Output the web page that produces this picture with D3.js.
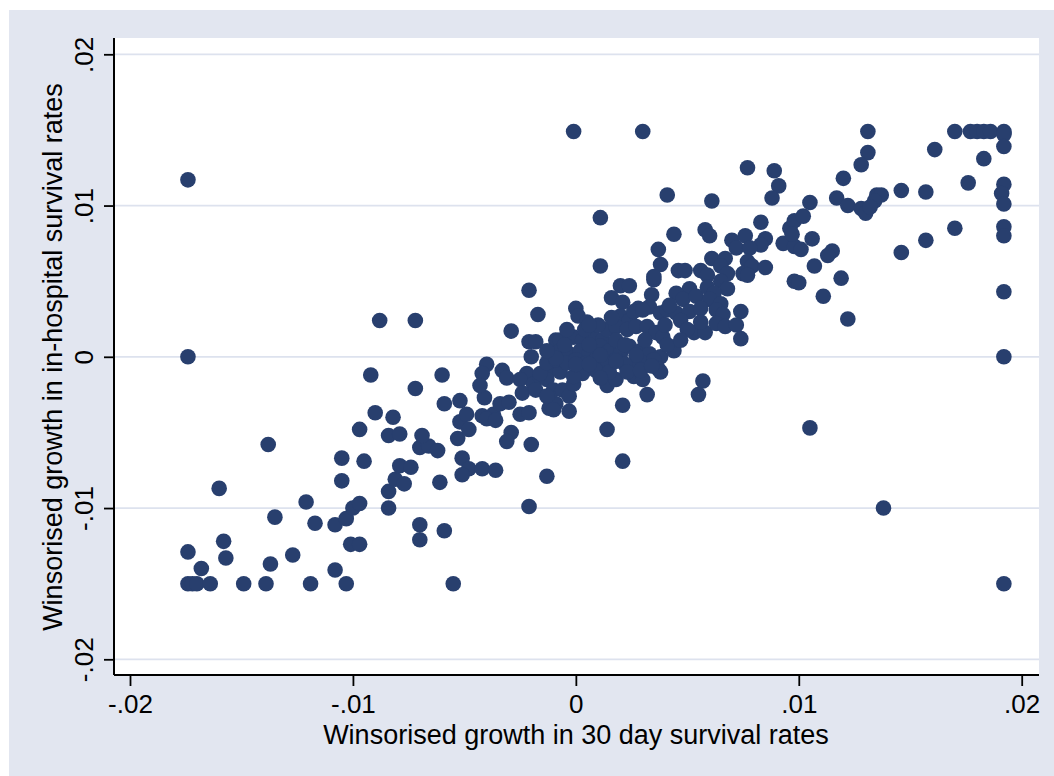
<!DOCTYPE html>
<html>
<head>
<meta charset="utf-8">
<script src="https://cdn.jsdelivr.net/npm/d3@7"></script>
<style>
  html, body { margin: 0; padding: 0; background: #ffffff; }
  svg { display: block; }
  text { font-family: "Liberation Sans", Arial, sans-serif; fill: #000; }
</style>
</head>
<body>
<div id="chart"></div>
<script>
// Axis ticks and their labels
const xTicks = [-0.02, -0.01, 0, 0.01, 0.02];
const xTickLabels = ["-.02", "-.01", "0", ".01", ".02"];
const yTicks = [-0.02, -0.01, 0, 0.01, 0.02];
const yTickLabels = ["-.02", "-.01", "0", ".01", ".02"];

const xTitle = "Winsorised growth in 30 day survival rates";
const yTitle = "Winsorised growth in in-hospital survival rates";

// [growth in 30 day survival, growth in in-hospital survival], winsorised
const survivalGrowth = [
  [-0.0174, 0.0117], [-0.0174, 0.0000], [-0.0174, -0.0129], [-0.0174, -0.0150], [-0.0172, -0.0150],
  [-0.0170, -0.0150], [-0.0168, -0.0140], [-0.0164, -0.0150], [-0.0160, -0.0087], [-0.0158, -0.0122],
  [-0.0157, -0.0133], [-0.0149, -0.0150], [-0.0139, -0.0150], [-0.0138, -0.0058], [-0.0137, -0.0137],
  [-0.0135, -0.0106], [-0.0127, -0.0131], [-0.0121, -0.0096], [-0.0119, -0.0150], [-0.0117, -0.0110],
  [-0.0108, -0.0141], [-0.0108, -0.0111], [-0.0105, -0.0082], [-0.0105, -0.0067], [-0.0103, -0.0107],
  [-0.0103, -0.0150], [-0.0101, -0.0124], [-0.0097, -0.0124], [-0.0100, -0.0100], [-0.0097, -0.0097],
  [-0.0097, -0.0048], [-0.0095, -0.0069], [-0.0092, -0.0012], [-0.0090, -0.0037], [-0.0088, 0.0024],
  [-0.0084, -0.0052], [-0.0079, -0.0051], [-0.0082, -0.0040], [-0.0084, -0.0089], [-0.0081, -0.0081],
  [-0.0077, -0.0084], [-0.0084, -0.0100], [-0.0079, -0.0072], [-0.0074, -0.0073], [-0.0072, 0.0024],
  [-0.0072, -0.0021], [-0.0070, -0.0060], [-0.0066, -0.0059], [-0.0062, -0.0062], [-0.0069, -0.0052],
  [-0.0070, -0.0111], [-0.0070, -0.0121], [-0.0061, -0.0083], [-0.0059, -0.0115], [-0.0060, -0.0012],
  [-0.0059, -0.0031], [-0.0055, -0.0150], [-0.0053, -0.0054], [-0.0052, -0.0029], [-0.0052, -0.0043],
  [-0.0049, -0.0038], [-0.0051, -0.0067], [-0.0048, -0.0074], [-0.0051, -0.0078], [-0.0048, -0.0048],
  [-0.0042, -0.0039], [-0.0037, -0.0038], [-0.0042, -0.0074], [-0.0036, -0.0075], [-0.0040, -0.0041],
  [-0.0036, -0.0042], [-0.0041, -0.0027], [-0.0040, -0.0005], [-0.0042, -0.0011], [-0.0043, -0.0019],
  [-0.0033, -0.0009], [-0.0031, -0.0014], [-0.0034, -0.0031], [-0.0030, -0.0030], [-0.0029, 0.0017],
  [-0.0029, -0.0050], [-0.0031, -0.0056], [-0.0025, -0.0038], [-0.0021, -0.0037], [-0.0020, -0.0058],
  [-0.0021, 0.0044], [-0.0017, 0.0028], [-0.0021, 0.0010], [-0.0018, 0.0010], [-0.0009, 0.0011],
  [-0.0020, 0.0000], [-0.0022, -0.0011], [-0.0025, -0.0015], [-0.0019, -0.0018], [-0.0016, -0.0013],
  [-0.0012, -0.0009], [-0.0024, -0.0024], [-0.0018, -0.0022], [-0.0013, -0.0015], [-0.0012, -0.0034],
  [-0.0009, -0.0031], [-0.0013, -0.0079], [-0.0021, -0.0099], [-0.0010, -0.0022], [-0.0013, -0.0026],
  [-0.0006, -0.0022], [-0.0003, -0.0026], [-0.0001, -0.0018], [-0.0010, -0.0035], [-0.0003, -0.0036],
  [-0.0016, -0.0011], [-0.0007, -0.0010], [0.0003, -0.0011], [-0.0001, -0.0013], [-0.0007, 0.0011],
  [-0.0001, 0.0013], [0.0003, 0.0011], [0.0008, 0.0013], [0.0012, 0.0011], [0.0000, 0.0032],
  [0.0001, 0.0027], [0.0005, 0.0023],
  [-0.0012, 0.0002], [-0.0007, 0.0004], [-0.0003, 0.0002], [0.0002, 0.0004], [0.0006, 0.0002],
  [0.0011, 0.0007], [0.0015, 0.0004], [0.0020, 0.0002], [0.0024, 0.0007], [0.0029, 0.0004],
  [0.0033, 0.0002], [0.0038, 0.0000],
  [-0.0013, -0.0004], [-0.0009, -0.0002], [-0.0004, -0.0004], [0.0000, -0.0002], [0.0005, -0.0004],
  [0.0009, -0.0002], [0.0014, -0.0004], [0.0018, -0.0002], [0.0026, -0.0007], [0.0030, -0.0004],
  [0.0035, -0.0002], [0.0037, -0.0008],
  [0.0026, -0.0013], [0.0030, -0.0015], [0.0014, -0.0019], [0.0032, -0.0025], [0.0021, -0.0032],
  [0.0018, -0.0015], [0.0014, -0.0048], [0.0021, -0.0069], [0.0057, -0.0016], [0.0055, -0.0025],
  [0.0020, 0.0047], [0.0024, 0.0047], [0.0035, 0.0051], [0.0016, 0.0039], [0.0021, 0.0036],
  [0.0034, 0.0041], [0.0028, 0.0032], [0.0033, 0.0033], [0.0038, 0.0029], [0.0020, 0.0027],
  [0.0024, 0.0024], [0.0014, 0.0018], [0.0018, 0.0020], [0.0023, 0.0018], [0.0027, 0.0020],
  [0.0032, 0.0020], [0.0036, 0.0016], [0.0039, 0.0013],
  [0.0011, 0.0092], [0.0011, 0.0060], [0.0041, 0.0107], [0.0061, 0.0103], [0.0077, 0.0125],
  [0.0089, 0.0123], [0.0091, 0.0113], [0.0088, 0.0105], [0.0083, 0.0089], [0.0096, 0.0085],
  [0.0098, 0.0090], [0.0058, 0.0084], [0.0060, 0.0080], [0.0044, 0.0081], [0.0070, 0.0077],
  [0.0076, 0.0080], [0.0072, 0.0072], [0.0085, 0.0078], [0.0083, 0.0074], [0.0093, 0.0075],
  [0.0098, 0.0073], [0.0078, 0.0072], [0.0037, 0.0071], [0.0038, 0.0061], [0.0061, 0.0065],
  [0.0067, 0.0065], [0.0065, 0.0060], [0.0077, 0.0063], [0.0079, 0.0060], [0.0075, 0.0055],
  [0.0077, 0.0054], [0.0085, 0.0059], [0.0046, 0.0057], [0.0049, 0.0057], [0.0056, 0.0057],
  [0.0059, 0.0054], [0.0068, 0.0055], [0.0065, 0.0050], [0.0068, 0.0045], [0.0035, 0.0053],
  [0.0098, 0.0050], [0.0051, 0.0045], [0.0045, 0.0042], [0.0048, 0.0038], [0.0054, 0.0040],
  [0.0059, 0.0046], [0.0062, 0.0042], [0.0060, 0.0038], [0.0065, 0.0035], [0.0074, 0.0030],
  [0.0026, 0.0030], [0.0030, 0.0031], [0.0041, 0.0031], [0.0045, 0.0029], [0.0051, 0.0030],
  [0.0056, 0.0032], [0.0063, 0.0031], [0.0066, 0.0028],
  [0.0053, 0.0016], [0.0058, 0.0016], [0.0063, 0.0022], [0.0067, 0.0020], [0.0072, 0.0021],
  [0.0074, 0.0012], [0.0044, 0.0004], [0.0038, -0.0010],
  [0.0006, 0.0008], [0.0011, 0.0001], [0.0018, 0.0011], [0.0022, 0.0008], [0.0027, 0.0001],
  [0.0031, 0.0011], [0.0009, -0.0009], [0.0015, -0.0010], [0.0022, -0.0005], [0.0004, 0.0018],
  [0.0010, 0.0021], [-0.0005, 0.0008], [-0.0009, -0.0001], [0.0000, -0.0005],
  [0.0042, 0.0034], [0.0047, 0.0024], [0.0056, 0.0023], [0.0050, 0.0018], [0.0040, 0.0021],
  [0.0018, -0.0003], [0.0023, -0.0010], [0.0029, -0.0009], [0.0034, -0.0006], [0.0006, -0.0005],
  [0.0011, -0.0014], [0.0016, 0.0026], [0.0006, 0.0021], [-0.0004, 0.0018], [-0.0013, 0.0004],
  [0.0041, 0.0008], [0.0047, 0.0011],
  [0.0120, 0.0118], [0.0146, 0.0110], [0.0157, 0.0109], [0.0135, 0.0107], [0.0137, 0.0107],
  [0.0134, 0.0103], [0.0117, 0.0105], [0.0122, 0.0100], [0.0128, 0.0098], [0.0130, 0.0095],
  [0.0132, 0.0099], [0.0105, 0.0102], [0.0102, 0.0093], [0.0097, 0.0081], [0.0101, 0.0071],
  [0.0106, 0.0078], [0.0115, 0.0070], [0.0113, 0.0067], [0.0146, 0.0069], [0.0107, 0.0060],
  [0.0100, 0.0049], [0.0119, 0.0052], [0.0111, 0.0040], [0.0122, 0.0025],
  [0.0131, 0.0149], [0.0131, 0.0135], [0.0128, 0.0127], [0.0161, 0.0137], [0.0170, 0.0149],
  [0.0177, 0.0149], [0.0180, 0.0149], [0.0183, 0.0149], [0.0186, 0.0149], [0.0192, 0.0149],
  [0.0192, 0.0148], [0.0192, 0.0147], [0.0192, 0.0139], [0.0183, 0.0131], [0.0176, 0.0115],
  [0.0192, 0.0114], [0.0191, 0.0108], [0.0192, 0.0101], [0.0192, 0.0086], [0.0192, 0.0080],
  [0.0170, 0.0085], [0.0157, 0.0077], [0.0192, 0.0043], [0.0192, 0.0000], [0.0192, -0.0150],
  [0.0138, -0.0100], [0.0105, -0.0047], [-0.0001, 0.0149], [0.0030, 0.0149]
];

const W = 1054, H = 776;
const frame = { left: 114, right: 1039, top: 38, bottom: 675 };

const svg = d3.select("#chart").append("svg")
  .attr("width", W).attr("height", H);

// Graph region and plot region backgrounds
svg.append("rect").attr("x", 0).attr("y", 0).attr("width", W).attr("height", H).attr("fill", "#ffffff");
svg.append("rect").attr("x", 9).attr("y", 10).attr("width", W - 9).attr("height", H - 10).attr("fill", "#e2e6f0");
svg.append("rect")
  .attr("x", frame.left).attr("y", frame.top)
  .attr("width", frame.right - frame.left).attr("height", frame.bottom - frame.top)
  .attr("fill", "#ffffff");

const x = d3.scaleLinear().domain([-0.02, 0.02]).range([130, 1021.7]);
const y = d3.scaleLinear().domain([-0.02, 0.02]).range([659.3, 54.3]);

// Horizontal grid lines at the y ticks
svg.append("g").selectAll("line").data(yTicks).join("line")
  .attr("x1", frame.left).attr("x2", frame.right)
  .attr("y1", d => y(d)).attr("y2", d => y(d))
  .attr("stroke", "#dde2ee").attr("stroke-width", 1.8);

// Scatter points
svg.append("g").selectAll("circle").data(survivalGrowth).join("circle")
  .attr("cx", d => x(d[0])).attr("cy", d => y(d[1]))
  .attr("r", 7.8)
  .attr("fill", "#283f6e");

// X axis
const xAxis = svg.append("g").attr("transform", `translate(0,${frame.bottom})`)
  .call(d3.axisBottom(x).tickValues(xTicks).tickFormat((d, i) => xTickLabels[i]).tickSize(11));
xAxis.select(".domain").remove();
xAxis.selectAll(".tick line").attr("stroke", "#000").attr("stroke-width", 1.8);
xAxis.selectAll(".tick text")
  .attr("y", 38).attr("dy", 0)
  .style("font-size", "26px").attr("fill", "#000");
xAxis.append("line")
  .attr("x1", frame.left).attr("x2", frame.right).attr("y1", 0).attr("y2", 0)
  .attr("stroke", "#000").attr("stroke-width", 2);

// Y axis
const yAxis = svg.append("g").attr("transform", `translate(${frame.left},0)`)
  .call(d3.axisLeft(y).tickValues(yTicks).tickFormat((d, i) => yTickLabels[i]).tickSize(10));
yAxis.select(".domain").remove();
yAxis.selectAll(".tick line").attr("stroke", "#000").attr("stroke-width", 1.8);
yAxis.selectAll(".tick text")
  .attr("transform", "rotate(-90)")
  .attr("x", 0).attr("y", -21).attr("dy", 0)
  .attr("text-anchor", "middle")
  .style("font-size", "26px").attr("fill", "#000");
yAxis.append("line")
  .attr("x1", 0).attr("x2", 0).attr("y1", frame.top).attr("y2", frame.bottom)
  .attr("stroke", "#000").attr("stroke-width", 2);

// Axis titles
svg.append("text")
  .attr("x", 576).attr("y", 744)
  .attr("text-anchor", "middle")
  .style("font-size", "27px")
  .text(xTitle);

svg.append("text")
  .attr("transform", "translate(62,357) rotate(-90)")
  .attr("text-anchor", "middle")
  .style("font-size", "27px")
  .text(yTitle);
</script>
</body>
</html>
